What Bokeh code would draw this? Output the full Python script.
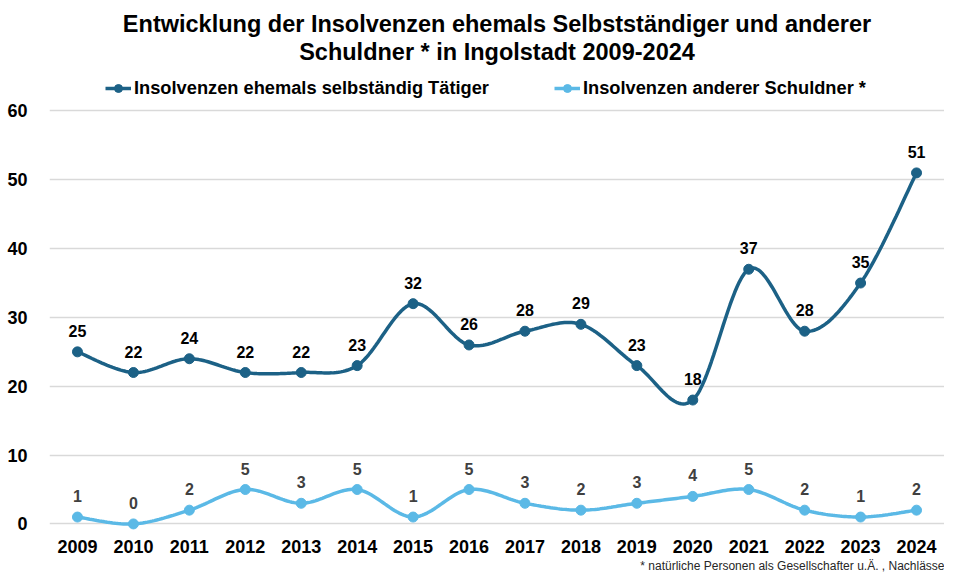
import numpy as np
from bokeh.plotting import figure
from bokeh.models import Range1d, FixedTicker, Title, Legend, LegendItem, ColumnDataSource
from bokeh.core.properties import value
from bokeh.embed import file_html
from bokeh.resources import INLINE

years = list(range(2009, 2025))
selbst = [25, 22, 24, 22, 22, 23, 32, 26, 28, 29, 23, 18, 37, 28, 35, 51]
andere = [1, 0, 2, 5, 3, 5, 1, 5, 3, 2, 3, 4, 5, 2, 1, 2]
y_ticks = [0, 10, 20, 30, 40, 50, 60]

name_selbst = "Insolvenzen ehemals selbständig Tätiger"
name_andere = "Insolvenzen anderer Schuldner *"
title1 = "Entwicklung der Insolvenzen ehemals Selbstständiger und anderer"
title2 = "Schuldner * in Ingolstadt 2009-2024"
footnote = "* natürliche Personen als Gesellschafter u.Ä. , Nachlässe"

DARK = "#1C6186"
LIGHT = "#5BB9E6"
FONT = "Liberation Sans"


def smooth(xs, ys, n=24):
    xs = np.asarray(xs, float)
    ys = np.asarray(ys, float)
    px, py = [], []
    m = len(xs)
    for i in range(m - 1):
        x0, y0 = xs[max(i - 1, 0)], ys[max(i - 1, 0)]
        x1, y1 = xs[i], ys[i]
        x2, y2 = xs[i + 1], ys[i + 1]
        x3, y3 = xs[min(i + 2, m - 1)], ys[min(i + 2, m - 1)]
        c1x, c1y = x1 + (x2 - x0) / 6, y1 + (y2 - y0) / 6
        c2x, c2y = x2 - (x3 - x1) / 6, y2 - (y3 - y1) / 6
        t = np.linspace(0, 1, n, endpoint=(i == m - 2))
        a = (1 - t) ** 3
        b = 3 * (1 - t) ** 2 * t
        c = 3 * (1 - t) * t ** 2
        d = t ** 3
        px.extend(a * x1 + b * c1x + c * c2x + d * x2)
        py.extend(a * y1 + b * c1y + c * c2y + d * y2)
    return px, py


p = figure(frame_width=895, frame_height=467, output_backend="svg", toolbar_location=None,
           x_range=Range1d(2008.5, 2024.5), y_range=Range1d(-1.1, 66.75),
           min_border_left=49, min_border_right=0, min_border_top=0, min_border_bottom=0)
p.outline_line_color = None
p.background_fill_color = "white"

sx, sy = smooth(years, selbst)
ax, ay = smooth(years, andere)
l1 = p.line(sx, sy, line_color=DARK, line_width=3.5)
m1 = p.scatter(years, selbst, size=10, fill_color=DARK, line_color=DARK)
l2 = p.line(ax, ay, line_color=LIGHT, line_width=3.5)
m2 = p.scatter(years, andere, size=10, fill_color=LIGHT, line_color=LIGHT)

src1 = ColumnDataSource(dict(x=years, y=selbst, t=[str(v) for v in selbst]))
src2 = ColumnDataSource(dict(x=years, y=andere, t=[str(v) for v in andere]))
p.text(x="x", y="y", text="t", source=src1, text_align="center", text_baseline="alphabetic",
       y_offset=-21, text_font=value(FONT), text_font_style="bold", text_font_size="16px",
       text_color="#000000")
p.text(x="x", y="y", text="t", source=src2, text_align="center", text_baseline="alphabetic",
       y_offset=-21, text_font=value(FONT), text_font_style="bold", text_font_size="16px",
       text_color="#404040")

p.xaxis.ticker = FixedTicker(ticks=years)
p.yaxis.ticker = FixedTicker(ticks=y_ticks)
p.xgrid.grid_line_color = None
p.ygrid.ticker = FixedTicker(ticks=y_ticks)
p.ygrid.grid_line_color = "#D9D9D9"
p.ygrid.grid_line_width = 1.5
for ax_ in (p.xaxis, p.yaxis):
    ax_.axis_line_color = None
    ax_.major_tick_line_color = None
    ax_.minor_tick_line_color = None
    ax_.major_label_text_font = FONT
    ax_.major_label_text_font_style = "bold"
    ax_.major_label_text_font_size = "18px"
    ax_.major_label_text_color = "#000000"
p.xaxis.major_label_standoff = 2
p.yaxis.major_label_standoff = 16

legend = Legend(items=[LegendItem(label=name_selbst, renderers=[l1, m1]),
                       LegendItem(label=name_andere, renderers=[l2, m2])],
                orientation="horizontal", location=(56, 432),
                label_text_font=FONT, label_text_font_style="bold", label_text_font_size="18.25px",
                label_text_color="#000000", glyph_width=26, label_standoff=3, spacing=65,
                border_line_color=None, background_fill_alpha=0, padding=2, margin=0)
p.add_layout(legend, "center")
p.add_layout(Title(text=title2, align="center", text_font=FONT, text_font_style="bold",
                   text_font_size="23.5px", text_color="#000000", standoff=0, offset=-16), "above")
p.add_layout(Title(text=title1, align="center", text_font=FONT, text_font_style="bold",
                   text_font_size="23.5px", text_color="#000000", standoff=0, offset=-16), "above")
p.add_layout(Title(text=" ", align="center", text_font=FONT, text_font_size="5px",
                   standoff=0), "above")
p.add_layout(Title(text=footnote, align="right", text_font=FONT, text_font_style="normal",
                   text_font_size="12px", text_color="#262626", standoff=2), "below")

open("out.html", "w").write(file_html(p, INLINE))
